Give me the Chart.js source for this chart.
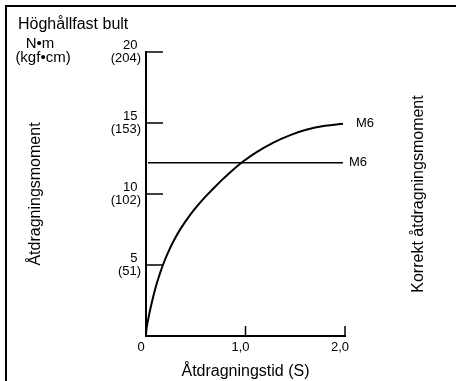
<!DOCTYPE html>
<html>
<head>
<meta charset="utf-8">
<script src="https://cdn.jsdelivr.net/npm/chart.js@4.4.1/dist/chart.umd.min.js"></script>
<style>
  html, body { margin: 0; padding: 0; background: #fff; }
  #wrap { position: relative; width: 456px; height: 381px; overflow: hidden; }
  #frame {
    position: absolute; left: 5px; top: 5px; right: -10px; bottom: -10px;
    border-left: 2px solid #000; border-top: 2px solid #000; pointer-events: none;
  }
</style>
</head>
<body>
<div id="wrap">
  <canvas id="torque-chart" width="456" height="381"></canvas>
  <div id="frame"></div>
</div>
<script>
// tightening time (s) vs torque (N·m)
const timeS = [0, 0.005, 0.02, 0.04, 0.07, 0.1, 0.14, 0.17, 0.22, 0.28, 0.35, 0.44,
  0.52, 0.61, 0.7, 0.78, 0.87, 0.96, 1.1, 1.28, 1.45, 1.61, 1.8, 1.98];
const torqueNm = [0, 0.5, 1.1, 1.8, 2.7, 3.5, 4.4, 5.0, 5.85, 6.72, 7.58, 8.5,
  9.2, 9.9, 10.55, 11.1, 11.68, 12.2, 12.9, 13.62, 14.15, 14.52, 14.8, 14.95];

// correct tightening torque line
const correctTime = [0.02, 1.98];
const correctTorque = [12.2, 12.2];

const seriesLabels = ['M6', 'M6'];

const xTickLabels = ['0', '1,0', '2,0'];
const yTickNm = ['', '5', '10', '15', '20'];
const yTickKgf = ['', '(51)', '(102)', '(153)', '(204)'];

const chartHeading = 'Höghållfast bult';
const unitMain = 'N•m';
const unitAlt = '(kgf•cm)';
const xTitle = 'Åtdragningstid (S)';
const yTitle = 'Åtdragningsmoment';
const rightTitle = 'Korrekt åtdragningsmoment';

const FONT = '"Liberation Sans", Arial, sans-serif';
Chart.defaults.font.family = FONT;
Chart.defaults.color = '#000';

const extrasPlugin = {
  id: 'extras',
  afterDraw(chart) {
    const ctx = chart.ctx;
    const xs = chart.scales.x;
    const ys = chart.scales.y;
    const area = chart.chartArea;
    ctx.save();

    // tick marks point inward
    ctx.strokeStyle = '#000';
    ctx.lineWidth = 1.5;
    ys.ticks.forEach((t) => {
      if (t.value <= 0) return;
      const py = ys.getPixelForValue(t.value);
      ctx.beginPath();
      ctx.moveTo(area.left, py);
      ctx.lineTo(area.left + 17, py);
      ctx.stroke();
    });
    xs.ticks.forEach((t) => {
      if (t.value <= 0) return;
      const px = xs.getPixelForValue(t.value);
      ctx.beginPath();
      ctx.moveTo(px, area.bottom);
      ctx.lineTo(px, area.bottom - 10);
      ctx.stroke();
    });

    // labels at the end of each line
    const gaps = [13, 6];
    ctx.fillStyle = '#000';
    ctx.font = '13px ' + FONT;
    ctx.textBaseline = 'middle';
    ctx.textAlign = 'left';
    chart.data.datasets.forEach((ds, i) => {
      const last = ds.data[ds.data.length - 1];
      ctx.fillText(seriesLabels[i], xs.getPixelForValue(last.x) + gaps[i], ys.getPixelForValue(last.y));
    });

    // heading and units
    ctx.font = '16px ' + FONT;
    ctx.fillText(chartHeading, 18, 25);
    ctx.font = '15px ' + FONT;
    ctx.textAlign = 'center';
    ctx.fillText(unitMain, 40, 44);
    ctx.fillText(unitAlt, 43, 58);

    // right side title, reads bottom to top
    ctx.translate(419, (area.top + area.bottom) / 2);
    ctx.rotate(-Math.PI / 2);
    ctx.font = '16px ' + FONT;
    ctx.fillText(rightTitle, 0, 0);
    ctx.restore();
  },
};

new Chart(document.getElementById('torque-chart'), {
  type: 'line',
  data: {
    datasets: [
      {
        data: timeS.map((t, i) => ({ x: t, y: torqueNm[i] })),
        borderColor: '#000',
        borderWidth: 2,
        pointRadius: 0,
        fill: false,
        tension: 0.4,
      },
      {
        data: correctTime.map((t, i) => ({ x: t, y: correctTorque[i] })),
        borderColor: '#000',
        borderWidth: 1.5,
        pointRadius: 0,
        fill: false,
      },
    ],
  },
  options: {
    responsive: false,
    animation: false,
    devicePixelRatio: 1,
    events: [],
    layout: { padding: { left: 20, right: 111, top: 52, bottom: 0 } },
    plugins: {
      legend: { display: false },
      tooltip: { enabled: false },
    },
    scales: {
      x: {
        type: 'linear',
        min: 0,
        max: 2,
        afterFit: (s) => { s.height = 45; },
        border: { color: '#000', width: 2 },
        grid: { display: false, drawTicks: false },
        ticks: {
          stepSize: 1,
          autoSkip: false,
          padding: 4,
          labelOffset: -5,
          font: { size: 13 },
          callback: (v, i) => xTickLabels[i],
        },
        title: { display: true, text: xTitle, font: { size: 16 }, padding: 0 },
      },
      y: {
        min: 0,
        max: 20,
        afterFit: (s) => { s.width = 126; },
        border: { color: '#000', width: 2 },
        grid: { display: false, drawTicks: false },
        ticks: {
          stepSize: 5,
          autoSkip: false,
          padding: 5,
          font: { size: 13, lineHeight: 0.95 },
          callback: (v, i) => (i === 0 ? '' : [yTickNm[i] + ' ', yTickKgf[i]]),
        },
        title: { display: true, text: yTitle, font: { size: 16 }, padding: { top: 6, bottom: 0 } },
      },
    },
  },
  plugins: [extrasPlugin],
});
</script>
</body>
</html>
